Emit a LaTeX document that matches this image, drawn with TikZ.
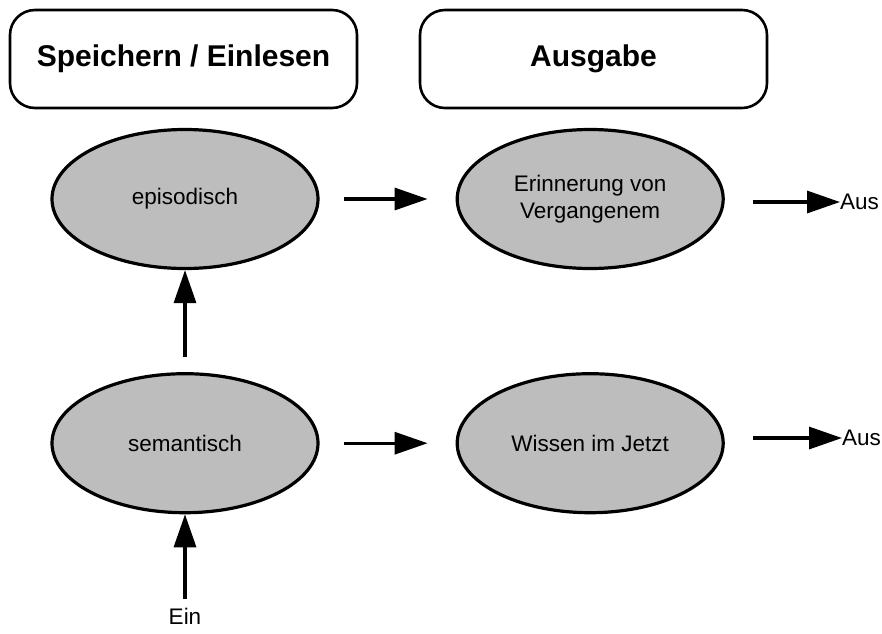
\documentclass[tikz,border=0pt]{standalone}
\usepackage{fontspec}
\setmainfont{Liberation Sans}
\usepackage{tikz}
\usetikzlibrary{arrows.meta,positioning,shapes.geometric}
\definecolor{cFill}{RGB}{189,189,189}
\tikzset{
	headbox/.style={draw=black, line width=2.6pt, rounded corners=25pt,
		fill=white, minimum width=347pt, minimum height=98pt, align=center,
		font=\fontsize{30}{34}\selectfont\bfseries},
	memell/.style={ellipse, draw=black, line width=3.2pt, fill=cFill,
		minimum width=266pt, minimum height=139pt, inner sep=0pt, align=center,
		font=\fontsize{22.5}{27}\selectfont},
	lbl/.style={inner sep=0pt, font=\fontsize{22.5}{25}\selectfont},
	marr/.style={-{Triangle[length=33pt,width=22pt]}, line width=3.2pt,
		draw=black},
}
\begin{document}
\begin{tikzpicture}[x=1pt,y=-1pt]
	\useasboundingbox (0,0) rectangle (882,633);
	\node[headbox] (store) at (183.5,59) {Speichern / Einlesen};
	\node[headbox] (output) at (593.5,59) {Ausgabe};
	\node[memell] (epi) at (185,199) {episodisch};
	\node[memell, right=136pt of epi] (recall) {Erinnerung von\\Vergangenem};
	\node[memell, below=102pt of epi] (sem) {semantisch};
	\node[memell, right=136pt of sem] (know) {Wissen im Jetzt};
	\node[lbl, anchor=west] (out1) at (840,202) {Aus};
	\node[lbl, anchor=west] (out2) at (842,438) {Aus};
	\node[lbl] (in) at (185,616) {Ein};
	\draw[marr, shorten <=24pt, shorten >=28pt] (epi) -- (recall);
	\draw[marr, shorten <=24pt, shorten >=28pt] (sem) -- (know);
	\draw[marr, shorten <=28pt] (recall.east |- out1.west) -- (out1.west);
	\draw[marr, shorten <=28pt] (know.east |- out2.west) -- (out2.west);
	\draw[marr, shorten <=15pt] (sem) -- (epi);
	\draw[marr, shorten <=9pt] (in) -- (sem);
\end{tikzpicture}
\end{document}
